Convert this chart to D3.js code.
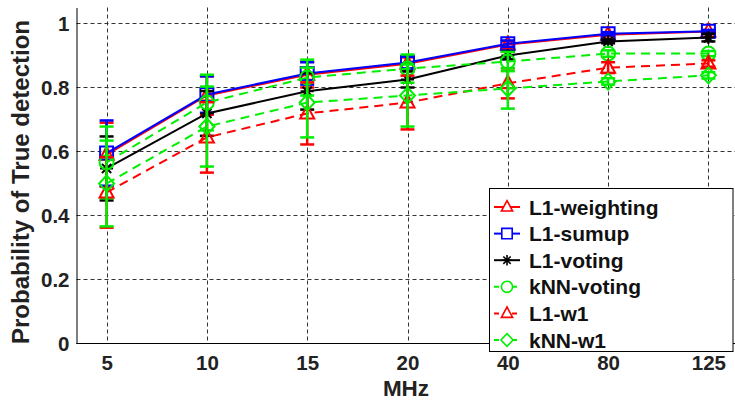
<!DOCTYPE html>
<html>
<head>
<meta charset="utf-8">
<script src="https://cdn.jsdelivr.net/npm/d3@7"></script>
<style>
  body { margin: 0; background: #fff; }
  text { font-family: "Liberation Sans", Arial, Helvetica, sans-serif; font-weight: bold; }
</style>
</head>
<body>
<div id="graphId"></div>
<script>
var categories = ["5", "10", "15", "20", "40", "80", "125"];
var yTicks = [0, 0.2, 0.4, 0.6, 0.8, 1];

// mean values per method
var l1Weighting = [0.590, 0.775, 0.840, 0.874, 0.934, 0.965, 0.975];
var l1Sumup     = [0.595, 0.778, 0.844, 0.878, 0.937, 0.968, 0.976];
var l1Voting    = [0.547, 0.719, 0.788, 0.825, 0.900, 0.944, 0.956];
var knnVoting   = [0.566, 0.753, 0.831, 0.859, 0.881, 0.906, 0.906];
var l1W1        = [0.472, 0.644, 0.719, 0.753, 0.813, 0.862, 0.875];
var knnW1       = [0.500, 0.678, 0.753, 0.775, 0.797, 0.819, 0.838];

// error bar half widths
var l1WeightingErr = [0.100, 0.060, 0.040, 0.020, 0.010, 0.005, 0.004];
var l1SumupErr     = [0.102, 0.057, 0.035, 0.018, 0.010, 0.005, 0.004];
var l1VotingErr    = [0.100, 0.070, 0.057, 0.025, 0.012, 0.006, 0.012];
var knnVotingErr   = [0.112, 0.087, 0.056, 0.044, 0.030, 0.010, 0.008];
var l1W1Err        = [0.110, 0.110, 0.097, 0.084, 0.047, 0.017, 0.010];
var knnW1Err       = [0.134, 0.125, 0.109, 0.097, 0.063, 0.010, 0.010];

var seriesNames = ["L1-weighting", "L1-sumup", "L1-voting", "kNN-voting", "L1-w1", "kNN-w1"];

var series = [
    {name: seriesNames[0], values: l1Weighting, err: l1WeightingErr, color: "#ff0000", dash: null, marker: "triangle"},
    {name: seriesNames[1], values: l1Sumup, err: l1SumupErr, color: "#0000ff", dash: null, marker: "square"},
    {name: seriesNames[2], values: l1Voting, err: l1VotingErr, color: "#000000", dash: null, marker: "star"},
    {name: seriesNames[3], values: knnVoting, err: knnVotingErr, color: "#00ee00", dash: "9,6", marker: "circle"},
    {name: seriesNames[4], values: l1W1, err: l1W1Err, color: "#ff0000", dash: "9,6", marker: "triangle"},
    {name: seriesNames[5], values: knnW1, err: knnW1Err, color: "#00ee00", dash: "9,6", marker: "diamond"}
];

var wt = 735;
var ht = 400;

var svg = d3.select("#graphId").append("svg")
    .attr("width", wt)
    .attr("height", ht);

var x = d3.scalePoint()
    .domain(categories)
    .range([76.5, 738.5])
    .padding(0.3);

var y = d3.scaleLinear()
    .domain([0, 1.05])
    .range([343.5, 7.5]);

var markerPath = function (type) {
    if (type === "triangle") return "M0,-8L7,5L-7,5Z";
    if (type === "square") return "M-6.5,-6.5H6.5V6.5H-6.5Z";
    if (type === "diamond") return "M0,-8L7.5,0L0,8L-7.5,0Z";
    if (type === "circle") return d3.arc()({innerRadius: 0, outerRadius: 7, startAngle: 0, endAngle: 2 * Math.PI});
    // asterisk
    return "M0,-6.5V6.5M-6.5,0H6.5M-4.6,-4.6L4.6,4.6M-4.6,4.6L4.6,-4.6";
};

// grid
var grid = svg.append("g").attr("class", "grid");
grid.selectAll("line.h")
    .data(yTicks)
    .enter().append("line")
    .attr("x1", 76.5).attr("x2", wt)
    .attr("y1", function (d) { return y(d); })
    .attr("y2", function (d) { return y(d); })
    .attr("stroke", "#333")
    .attr("stroke-width", 1)
    .attr("stroke-dasharray", "4,3");
grid.selectAll("line.v")
    .data(categories)
    .enter().append("line")
    .attr("x1", function (d) { return Math.round(x(d)) + 0.5; })
    .attr("x2", function (d) { return Math.round(x(d)) + 0.5; })
    .attr("y1", y(1.05)).attr("y2", y(0))
    .attr("stroke", "#333")
    .attr("stroke-width", 1)
    .attr("stroke-dasharray", "4,3");

// axes
var xAxis = svg.append("g")
    .attr("transform", "translate(0," + y(0) + ")")
    .call(d3.axisBottom(x).tickSize(0).tickPadding(12));
xAxis.select(".domain").attr("stroke", "#000").attr("d", "M76.5,0H" + wt);
xAxis.selectAll("text").attr("font-size", 20.5).attr("fill", "#222")
    .attr("font-family", "Liberation Sans, Arial, sans-serif").attr("font-weight", "bold");

var yAxis = svg.append("g")
    .attr("transform", "translate(76.5,0)")
    .call(d3.axisLeft(y).tickValues(yTicks).tickFormat(d3.format("")).tickSize(0).tickPadding(7));
yAxis.select(".domain").attr("stroke", "#000");
yAxis.selectAll("text").attr("font-size", 20.5).attr("fill", "#222")
    .attr("font-family", "Liberation Sans, Arial, sans-serif").attr("font-weight", "bold");

svg.append("text")
    .attr("x", 406)
    .attr("y", 396)
    .attr("text-anchor", "middle")
    .attr("font-size", 22.5)
    .attr("fill", "#222")
    .text("MHz");

svg.append("text")
    .attr("transform", "translate(29,182) rotate(-90)")
    .attr("text-anchor", "middle")
    .attr("font-size", 24)
    .attr("fill", "#222")
    .text("Probability of True detection");

var line = d3.line()
    .x(function (d, i) { return x(categories[i]); })
    .y(function (d) { return y(d); });

series.forEach(function (s) {
    var g = svg.append("g").attr("class", "series");

    g.append("path")
        .datum(s.values)
        .attr("fill", "none")
        .attr("stroke", s.color)
        .attr("stroke-width", 2)
        .attr("stroke-dasharray", s.dash)
        .attr("d", line);

    var bars = g.selectAll("g.bar")
        .data(s.values)
        .enter().append("g")
        .attr("transform", function (d, i) { return "translate(" + x(categories[i]) + ",0)"; });
    bars.append("line")
        .attr("y1", function (d, i) { return y(d - s.err[i]); })
        .attr("y2", function (d, i) { return y(d + s.err[i]); })
        .attr("stroke", s.color)
        .attr("stroke-width", 2.5);
    bars.append("line")
        .attr("x1", -7).attr("x2", 7)
        .attr("y1", function (d, i) { return y(d - s.err[i]); })
        .attr("y2", function (d, i) { return y(d - s.err[i]); })
        .attr("stroke", s.color)
        .attr("stroke-width", 2.5);
    bars.append("line")
        .attr("x1", -7).attr("x2", 7)
        .attr("y1", function (d, i) { return y(d + s.err[i]); })
        .attr("y2", function (d, i) { return y(d + s.err[i]); })
        .attr("stroke", s.color)
        .attr("stroke-width", 2.5);

    g.selectAll("path.marker")
        .data(s.values)
        .enter().append("path")
        .attr("class", "marker")
        .attr("transform", function (d, i) { return "translate(" + x(categories[i]) + "," + y(d) + ")"; })
        .attr("d", markerPath(s.marker))
        .attr("fill", "none")
        .attr("stroke", s.color)
        .attr("stroke-width", 2);
});

// legend
var legend = svg.append("g").attr("class", "legend");
legend.append("rect")
    .attr("x", 489.5).attr("y", 188.5)
    .attr("width", 243.5).attr("height", 163)
    .attr("fill", "#fff")
    .attr("stroke", "#000");

var rows = legend.selectAll("g.row")
    .data(series)
    .enter().append("g")
    .attr("transform", function (d, i) { return "translate(0," + (207 + i * 26.6) + ")"; });
rows.append("line")
    .attr("x1", 494).attr("x2", 520)
    .attr("stroke", function (d) { return d.color; })
    .attr("stroke-width", 2)
    .attr("stroke-dasharray", function (d) { return d.dash ? "5,4" : null; });
rows.append("path")
    .attr("transform", "translate(507,0) scale(0.8)")
    .attr("d", function (d) { return markerPath(d.marker); })
    .attr("fill", "#fff")
    .attr("stroke", function (d) { return d.color; })
    .attr("stroke-width", 2);
rows.append("text")
    .attr("x", 529)
    .attr("y", 7.5)
    .attr("font-size", 21)
    .attr("fill", "#111")
    .text(function (d) { return d.name; });
</script>
</body>
</html>
